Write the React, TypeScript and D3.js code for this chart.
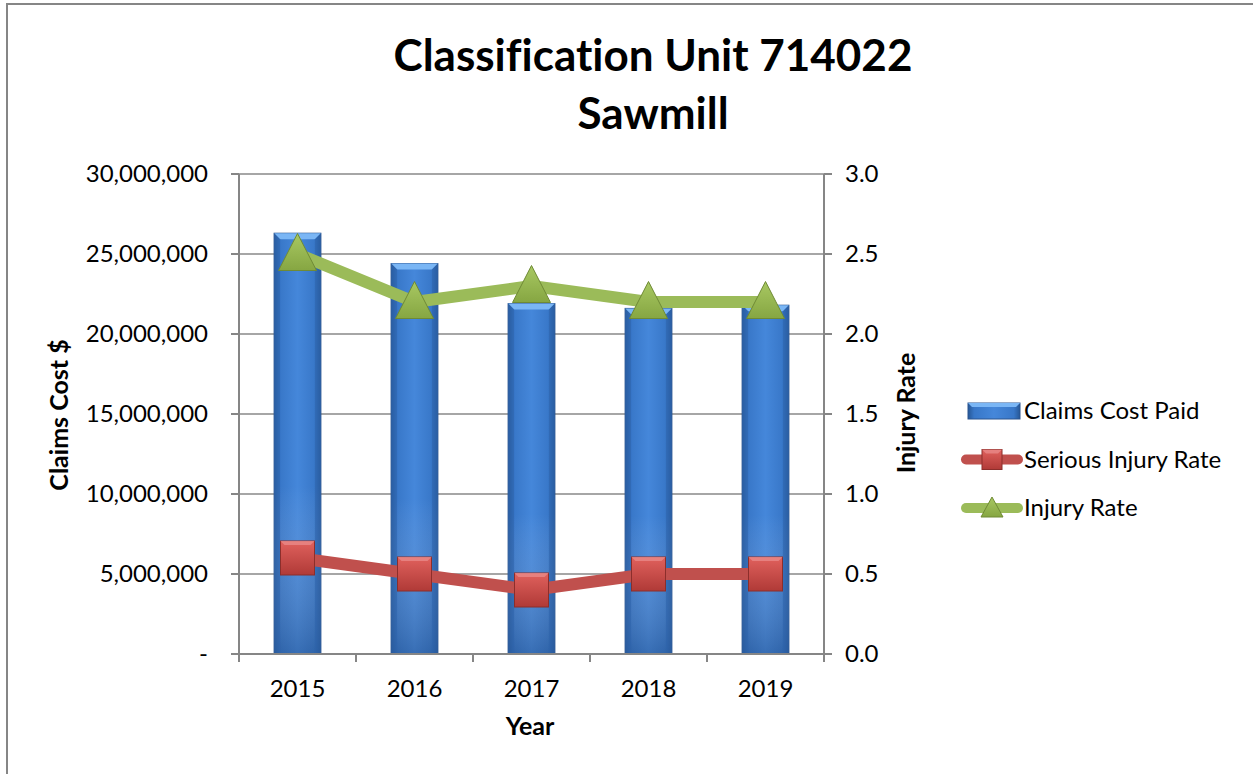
import React from "react";
import * as d3 from "d3";

const years = ["2015", "2016", "2017", "2018", "2019"];
const claimsCost = [26300000, 24400000, 21900000, 21600000, 21800000];
const seriousInjuryRate = [0.6, 0.5, 0.4, 0.5, 0.5];
const injuryRate = [2.5, 2.2, 2.3, 2.2, 2.2];
const leftTicks = [0, 5000000, 10000000, 15000000, 20000000, 25000000, 30000000];
const rightTicks = [0, 0.5, 1.0, 1.5, 2.0, 2.5, 3.0];
const legendItems = ["Claims Cost Paid", "Serious Injury Rate", "Injury Rate"];

const W = 1253, H = 774;
const M = { left: 239, right: 824, top: 174, bottom: 654 };
const FONT = "Lato, 'Open Sans', sans-serif";
const noLig = { fontVariantLigatures: "none" } as React.CSSProperties;

export default function App() {
  const x = d3.scaleBand<string>().domain(years).range([M.left, M.right]).paddingInner(0.6).paddingOuter(0.3);
  const xc = (d: string) => (x(d) as number) + x.bandwidth() / 2;
  const yL = d3.scaleLinear().domain([0, 30000000]).range([M.bottom, M.top]);
  const yR = d3.scaleLinear().domain([0, 3]).range([M.bottom, M.top]);
  const fmt = d3.format(",");
  const step = (M.right - M.left) / years.length;

  const lineGen = d3.line<[number, number]>().x(d => d[0]).y(d => d[1]);
  const redPts: [number, number][] = years.map((y, i) => [xc(y), yR(seriousInjuryRate[i])]);
  const greenPts: [number, number][] = years.map((y, i) => [xc(y), yR(injuryRate[i])]);

  const sq = 34;
  const triW = 38, triH = 37;

  const square = (cx: number, cy: number, s: number, key: string) => (
    <g key={key}>
      <rect x={cx - s / 2} y={cy - s / 2} width={s} height={s} fill="url(#redGrad)" stroke="#8c2e2b" strokeWidth={1} />
      <polygon points={`${cx - s / 2},${cy - s / 2} ${cx + s / 2},${cy - s / 2} ${cx + s / 2 - 4},${cy - s / 2 + 4} ${cx - s / 2 + 4},${cy - s / 2 + 4}`} fill="#e88a88" opacity={0.8} />
    </g>
  );
  const tri = (cx: number, cy: number, w: number, h: number, key: string) => (
    <g key={key}>
      <polygon points={`${cx},${cy - h / 2 - 2} ${cx + w / 2},${cy + h / 2 - 2} ${cx - w / 2},${cy + h / 2 - 2}`} fill="url(#greenGrad)" stroke="#6f8a35" strokeWidth={1} />
    </g>
  );

  return (
    <div style={{ position: "fixed", left: 0, top: 0 }}>
      <svg width={W} height={H} style={{ display: "block", background: "#fff", ...noLig }}>
        <defs>
          <linearGradient id="barGrad" x1="0" x2="1" y1="0" y2="0">
            <stop offset="0" stopColor="#265796" />
            <stop offset="0.12" stopColor="#3877c8" />
            <stop offset="0.5" stopColor="#4587da" />
            <stop offset="0.88" stopColor="#3877c8" />
            <stop offset="1" stopColor="#265796" />
          </linearGradient>
          <linearGradient id="barGradV" x1="0" x2="0" y1="0" y2="1">
            <stop offset="0" stopColor="#ffffff" stopOpacity="0" />
            <stop offset="0.6" stopColor="#ffffff" stopOpacity="0" />
            <stop offset="1" stopColor="#1d3f70" stopOpacity="0.35" />
          </linearGradient>
          <linearGradient id="redGrad" x1="0" x2="0" y1="0" y2="1">
            <stop offset="0" stopColor="#e0615d" />
            <stop offset="1" stopColor="#b03a37" />
          </linearGradient>
          <linearGradient id="greenGrad" x1="0" x2="0" y1="0" y2="1">
            <stop offset="0" stopColor="#a8c862" />
            <stop offset="1" stopColor="#86a642" />
          </linearGradient>
        </defs>

        {/* outer border */}
        <rect x={7} y={4} width={W} height={H} fill="none" stroke="#868686" strokeWidth={2} />

        {/* title */}
        <text x={653} y={71} textAnchor="middle" fontFamily={FONT} fontWeight={700} fontSize={44} fill="#000">Classification Unit 714022</text>
        <text x={653} y={129} textAnchor="middle" fontFamily={FONT} fontWeight={700} fontSize={44} fill="#000">Sawmill</text>

        {/* gridlines */}
        {leftTicks.map(t => (
          <line key={"g" + t} x1={M.left} x2={M.right} y1={yL(t)} y2={yL(t)} stroke="#a6a6a6" strokeWidth={2} />
        ))}

        {/* bars */}
        {years.map((yr, i) => {
          const bx = x(yr) as number, bw = x.bandwidth();
          const top = yL(claimsCost[i]);
          const h = M.bottom - top;
          const bev = 6;
          return (
            <g key={"b" + yr}>
              <rect x={bx} y={top} width={bw} height={h} fill="url(#barGrad)" stroke="#2a5490" strokeWidth={1} />
              <rect x={bx} y={top} width={bw} height={h} fill="url(#barGradV)" />
              <polygon points={`${bx},${top} ${bx + bw},${top} ${bx + bw - bev},${top + bev} ${bx + bev},${top + bev}`} fill="#7ab6f5" />
              <polygon points={`${bx},${top} ${bx + bev},${top + bev} ${bx + bev},${M.bottom} ${bx},${M.bottom}`} fill="#2d63aa" opacity={0.6} />
              <polygon points={`${bx + bw},${top} ${bx + bw - bev},${top + bev} ${bx + bw - bev},${M.bottom} ${bx + bw},${M.bottom}`} fill="#2d63aa" opacity={0.6} />
            </g>
          );
        })}

        {/* axes */}
        <line x1={M.left} x2={M.left} y1={M.top} y2={M.bottom + 8} stroke="#868686" strokeWidth={2} />
        <line x1={M.right} x2={M.right} y1={M.top} y2={M.bottom + 8} stroke="#868686" strokeWidth={2} />
        <line x1={M.left} x2={M.right} y1={M.bottom} y2={M.bottom} stroke="#868686" strokeWidth={2} />
        {leftTicks.map(t => (
          <line key={"lt" + t} x1={M.left - 8} x2={M.left} y1={yL(t)} y2={yL(t)} stroke="#868686" strokeWidth={2} />
        ))}
        {rightTicks.map(t => (
          <line key={"rt" + t} x1={M.right} x2={M.right + 8} y1={yR(t)} y2={yR(t)} stroke="#868686" strokeWidth={2} />
        ))}
        {d3.range(years.length + 1).map(i => (
          <line key={"xt" + i} x1={M.left + i * step} x2={M.left + i * step} y1={M.bottom} y2={M.bottom + 8} stroke="#868686" strokeWidth={2} />
        ))}

        {/* tick labels */}
        {leftTicks.map(t => (
          <text key={"ll" + t} x={208} y={yL(t) + 8} textAnchor="end" fontFamily={FONT} fontSize={24} fill="#000">{t === 0 ? "-" : fmt(t)}</text>
        ))}
        {rightTicks.map(t => (
          <text key={"rl" + t} x={845} y={yR(t) + 8} textAnchor="start" fontFamily={FONT} fontSize={24} fill="#000">{t.toFixed(1)}</text>
        ))}
        {years.map(yr => (
          <text key={"xl" + yr} x={xc(yr)} y={697} textAnchor="middle" fontFamily={FONT} fontSize={24} fill="#000">{yr}</text>
        ))}

        {/* axis titles */}
        <text x={530} y={735} textAnchor="middle" fontFamily={FONT} fontWeight={700} fontSize={25} fill="#000">Year</text>
        <text transform={`translate(68,${415}) rotate(-90)`} textAnchor="middle" fontFamily={FONT} fontWeight={700} fontSize={25} fill="#000">Claims Cost $</text>
        <text transform={`translate(915,${413}) rotate(-90)`} textAnchor="middle" fontFamily={FONT} fontWeight={700} fontSize={25} fill="#000">Injury Rate</text>

        {/* lines */}
        <path d={lineGen(greenPts) || ""} fill="none" stroke="#9bbb59" strokeWidth={12} strokeLinejoin="round" />
        <path d={lineGen(redPts) || ""} fill="none" stroke="#c0504d" strokeWidth={12} strokeLinejoin="round" />
        {redPts.map((p, i) => square(p[0], p[1], sq, "s" + i))}
        {greenPts.map((p, i) => tri(p[0], p[1], triW, triH, "t" + i))}

        {/* legend */}
        {legendItems.map((name, i) => {
          const ly = 411 + i * 48.5;
          const lx0 = 964, lx1 = 1020, lmid = (lx0 + lx1) / 2;
          return (
            <g key={"lg" + i}>
              {i === 0 && (
                <g>
                  <rect x={lx0 + 4} y={ly - 8} width={52} height={16} fill="url(#barGrad)" stroke="#2a5490" />
                  <polygon points={`${lx0 + 4},${ly - 8} ${lx0 + 56},${ly - 8} ${lx0 + 52},${ly - 4} ${lx0 + 8},${ly - 4}`} fill="#7ab6f5" />
                </g>
              )}
              {i === 1 && (
                <g>
                  <line x1={lx0 + 2} x2={lx1 - 2} y1={ly} y2={ly} stroke="#c0504d" strokeWidth={10} strokeLinecap="round" />
                  {square(lmid, ly, 20, "ls")}
                </g>
              )}
              {i === 2 && (
                <g>
                  <line x1={lx0 + 2} x2={lx1 - 2} y1={ly} y2={ly} stroke="#9bbb59" strokeWidth={10} strokeLinecap="round" />
                  {tri(lmid, ly + 1, 22, 20, "lt")}
                </g>
              )}
              <text x={1024} y={ly + 8} fontFamily={FONT} fontSize={24} fill="#000">{name}</text>
            </g>
          );
        })}
      </svg>
    </div>
  );
}
